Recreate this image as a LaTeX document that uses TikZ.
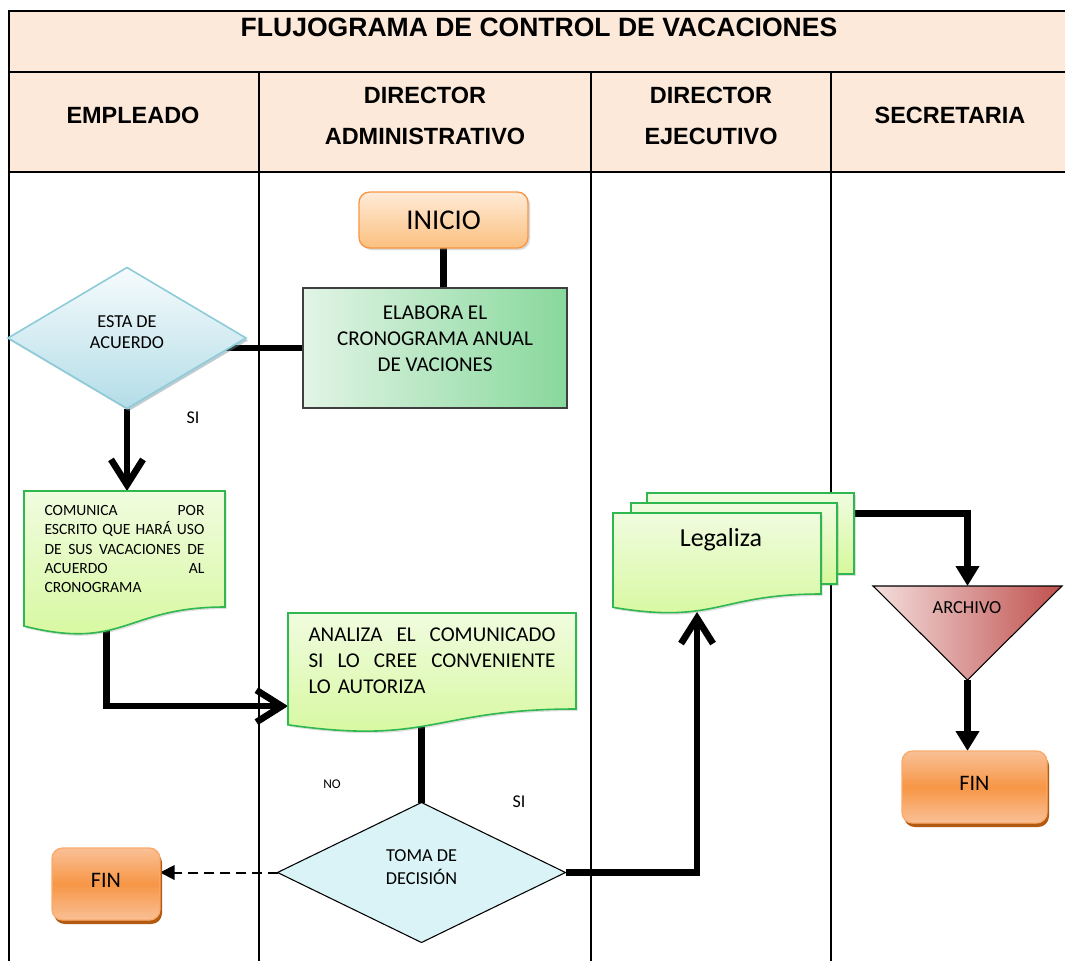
\documentclass[tikz,border=0pt]{standalone}
\usepackage{fontspec}
\setmainfont{Carlito}
\newfontfamily\headfont{Liberation Sans}
\usetikzlibrary{shapes.geometric,arrows.meta,calc,shadows}
\pgfdeclarelayer{grid}
\pgfdeclarelayer{wires}
\pgfdeclarelayer{shapes}
\pgfsetlayers{grid,wires,shapes,main}

\definecolor{headfill}{HTML}{FDE9D9}
\definecolor{iniTop}{HTML}{FFEBD7}
\definecolor{iniBot}{HTML}{FBC07F}
\definecolor{orangeLine}{HTML}{F79646}
\definecolor{finLight}{HTML}{F9C096}
\definecolor{finMid}{HTML}{F79646}
\definecolor{finShadow}{HTML}{B35A12}
\definecolor{elabLeft}{HTML}{E2F4E6}
\definecolor{elabRight}{HTML}{88D89C}
\definecolor{elabLine}{HTML}{3F3F3F}
\definecolor{decTop}{HTML}{F6FBFD}
\definecolor{decBot}{HTML}{B3DDE7}
\definecolor{decLine}{HTML}{8ECBD9}
\definecolor{decShadow}{HTML}{6F8F98}
\definecolor{tomaFill}{HTML}{DAF3F6}
\definecolor{docTop}{HTML}{F0FCDF}
\definecolor{docBot}{HTML}{D5F89B}
\definecolor{docLine}{HTML}{2EB84F}
\definecolor{archLeft}{HTML}{F3DFDE}
\definecolor{archRight}{HTML}{C0504D}

% document outline (flowchart "document" symbol) built on a node's text area
\newcommand\docpath[2]{\path[#1] (#2.north west) -- (#2.north east) -- (#2.south east)
  .. controls (#2.south) and ($(#2.north)!1.380!(#2.south)$)
  .. ($(#2.north west)!1.1646!(#2.south west)$) -- cycle;}
% a justified line of fixed width
\newcommand\jline[2]{\leavevmode\hbox to #1{#2}}

\begin{document}
\begin{tikzpicture}[x=0.75pt,y=-0.75pt,
  tableline/.style={line width=1.5pt},
  headtxt/.style={font=\headfont\bfseries\fontsize{17.6}{30.75}\selectfont, align=center, inner sep=0},
  txt/.style={inner sep=0, outer sep=0, align=center},
  terminal/.style={rectangle, rounded corners=8pt, inner sep=0, outer sep=0},
  startbox/.style={terminal, draw=orangeLine, line width=1pt, top color=iniTop, bottom color=iniBot,
    drop shadow={shadow xshift=1.5pt, shadow yshift=-1.5pt, opacity=.3}},
  endbox/.style={terminal, draw=orangeLine!80!white, line width=1pt, top color=finLight,
    bottom color=finLight, middle color=finMid, minimum width=81pt, minimum height=54pt,
    font=\fontsize{16.6}{19}\selectfont, text depth=6pt,
    drop shadow={shadow xshift=1.5pt, shadow yshift=-3pt, fill=finShadow, opacity=1}},
  process/.style={rectangle, draw=elabLine, line width=.8pt, left color=elabLeft, right color=elabRight,
    inner sep=0, outer sep=0},
  decision/.style={diamond, inner sep=0, outer sep=0},
  docbox/.style={rectangle, inner sep=0, outer sep=0},
  docshape/.style={draw=docLine, line width=1.2pt, top color=docTop, bottom color=docBot,
    drop shadow={shadow xshift=1.2pt, shadow yshift=-1.5pt, opacity=.25}},
  wire/.style={line width=5pt},
  barb/.style={-{Straight Barb[length=19pt,width=24pt]}},
  solidtip/.style={-{Triangle[length=15pt,width=17pt]}},
  dashwire/.style={line width=1.5pt, dash pattern=on 7pt off 5pt, -{Triangle[length=11pt,width=11pt]}},
]
\useasboundingbox (0,0) rectangle (1065,961);

% ---------- swimlane table ----------
\begin{pgfonlayer}{grid}
  \fill[headfill] (9,11) rectangle (1065,172);
  \draw[tableline] (1065,11) -- (9,11) -- (9,961);
  \draw[tableline] (9,72) -- (1065,72);
  \draw[tableline] (9,172) -- (1065,172);
  \foreach \x in {259,591,831} \draw[tableline] (\x,72) -- (\x,961);
\end{pgfonlayer}

\node[headtxt, font=\headfont\bfseries\fontsize{19.9}{22}\selectfont] (title) at (539,27) {FLUJOGRAMA DE CONTROL DE VACACIONES};
\node[headtxt] (lane1) at (133,115.5) {EMPLEADO};
\node[headtxt] (lane2) at (425,115.5) {DIRECTOR\\ADMINISTRATIVO};
\node[headtxt] (lane3) at (711,115.5) {DIRECTOR\\EJECUTIVO};
\node[headtxt] (lane4) at (950,115.5) {SECRETARIA};

% ---------- shapes ----------
\node[startbox, minimum width=126.75pt, minimum height=42pt, font=\fontsize{21.5}{24}\selectfont]
  (ini) at (443.5,220) {INICIO};

\node[process, minimum width=198pt, minimum height=90pt] (elab) at (435,348) {};
\node[txt, font=\fontsize{15.8}{19.5}\selectfont] (elabtxt) at (435,339)
  {ELABORA EL\\CRONOGRAMA ANUAL\\DE VACIONES};

\node[decision, draw=decLine, line width=1.2pt, top color=decTop, bottom color=decBot,
  minimum width=178.5pt, minimum height=105.75pt,
  drop shadow={shadow xshift=1.5pt, shadow yshift=-1.8pt, fill=decShadow, opacity=.45}]
  (esta) at (127,338) {};
\node[txt, font=\fontsize{13.7}{15.75}\selectfont] (estatxt) at (127,332) {ESTA DE\\ACUERDO};

\node[docbox, minimum width=150.75pt, minimum height=87pt, text width=120pt, align=left,
  font=\fontsize{11.7}{14.6}\selectfont] (com) at (124.5,549)
  {\jline{120pt}{COMUNICA\hfill POR}\\
   \jline{120pt}{ESCRITO\hfill QUE\hfill HARÁ\hfill USO}\\
   \jline{120pt}{DE\hfill SUS\hfill VACACIONES\hfill DE}\\
   \jline{120pt}{ACUERDO\hfill AL}\\
   CRONOGRAMA};

\node[docbox, minimum width=216pt, minimum height=72pt, text width=185.25pt, align=left,
  font=\fontsize{15.8}{19.5}\selectfont] (ana) at (432,661)
  {\jline{185.25pt}{ANALIZA\hfill EL\hfill COMUNICADO}\\
   \jline{185.25pt}{SI\hfill LO\hfill CREE\hfill CONVENIENTE}\\
   LO AUTORIZA};

\node[decision, draw, line width=.8pt, fill=tomaFill, minimum width=216pt, minimum height=105pt]
  (toma) at (421.5,872.5) {};
\node[txt, font=\fontsize{13.7}{17.25}\selectfont] (tomatxt) at (421.5,867) {TOMA DE\\DECISIÓN};

\node[endbox] (fin1) at (106,884) {FIN};
\node[endbox, minimum width=108.75pt] (fin2) at (974.5,787) {FIN};

% document sheets, including the stacked multi-document
\begin{pgfonlayer}{shapes}
  \docpath{docshape}{com}
  \docpath{docshape}{ana}
  \node[docbox, minimum width=155.25pt, minimum height=60.75pt] (legb) at (750.5,533.5) {};
  \node[docbox, minimum width=154.5pt, minimum height=60.75pt] (legm) at (734,543.5) {};
  \node[docbox, minimum width=156pt, minimum height=60.75pt] (legf) at (717,553.5) {};
  \path[docshape] (legb.north west) rectangle (legb.south east);
  \path[docshape] (legm.north west) rectangle (legm.south east);
  \docpath{docshape}{legf}
\end{pgfonlayer}
\node[txt, font=\fontsize{19.5}{22}\selectfont] (legtxt) at (721,540) {Legaliza};

% archive triangle
\node[docbox, minimum width=141.75pt, minimum height=70.5pt] (arch) at (967.5,633) {};
\begin{pgfonlayer}{shapes}
  \path[draw, line width=.8pt, left color=archLeft, right color=archRight]
    (arch.north west) -- (arch.north east) -- (arch.south) -- cycle;
\end{pgfonlayer}
\node[txt, font=\fontsize{13.8}{16}\selectfont] (archtxt) at (967,608) {ARCHIVO};

% ---------- labels ----------
\node[txt, font=\fontsize{13.5}{16}\selectfont] (si1) at (193,418) {SI};
\node[txt, font=\fontsize{10}{12}\selectfont] (no) at (332,784) {NO};
\node[txt, font=\fontsize{13.5}{16}\selectfont] (si2) at (519,802) {SI};

% ---------- connectors ----------
\begin{pgfonlayer}{wires}
  \draw[wire] (ini.south) -- (ini.south |- elab.north);
  \draw[wire] (elab.west) -- (elab.west -| esta.center);
  \draw[wire, barb] (esta.south) -- (esta.south |- com.north);
  \draw[wire, barb] ($(com.south west)!0.41!(com.south east)$) |- ($(ana.north west)!0.97!(ana.south west)$);
  \draw[wire] (toma.north |- ana.south) -- (toma.north);
  \draw[wire, barb] (toma.east) -| ($(legf.south west)!0.404!(legf.south east)+(0,18)$);
  \draw[wire, solidtip] ($(legb.north east)!0.25!(legb.south east)$) -| (arch.north);
  \draw[wire, solidtip] (arch.south) -- (arch.south |- fin2.north);
  \draw[dashwire] (toma.west) -- (toma.west -| fin1.east);
\end{pgfonlayer}

\end{tikzpicture}
\end{document}
